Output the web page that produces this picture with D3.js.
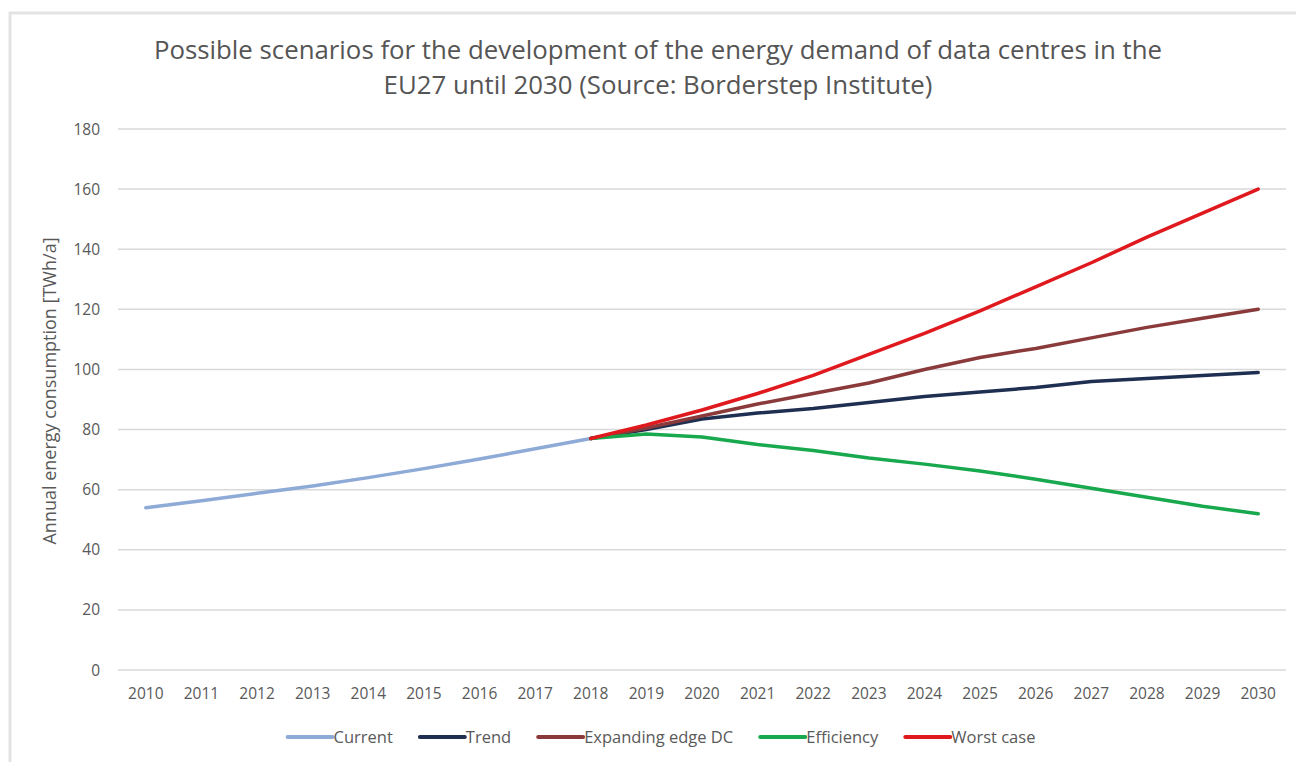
<!DOCTYPE html>
<html>
<head>
<meta charset="utf-8">
<script src="https://cdn.jsdelivr.net/npm/d3@7"></script>
<style>
  body { margin: 0; background: #fff; }
  svg { display: block; font-family: "Open Sans", sans-serif; }
</style>
</head>
<body>
<svg width="1296" height="762"></svg>
<script>
// data
var years = [2010, 2011, 2012, 2013, 2014, 2015, 2016, 2017, 2018, 2019,
             2020, 2021, 2022, 2023, 2024, 2025, 2026, 2027, 2028, 2029, 2030];
var current    = [54, 56.3, 58.8, 61.2, 64, 67, 70.2, 73.6, 77];
var trend      = [77, 80, 83.5, 85.5, 87, 89, 91, 92.5, 94, 96, 97, 98, 99];
var expanding  = [77, 80.5, 84.5, 88.5, 92, 95.5, 100, 104, 107, 110.5, 114, 117, 120];
var efficiency = [77, 78.5, 77.5, 75, 73, 70.5, 68.5, 66.2, 63.5, 60.5, 57.5, 54.5, 52];
var worst      = [77, 81.5, 86.5, 92, 98, 105, 112, 119.5, 127.5, 135.5, 144, 152, 160];
var yTicks = [0, 20, 40, 60, 80, 100, 120, 140, 160, 180];

var seriesNames = ["Current", "Trend", "Expanding edge DC", "Efficiency", "Worst case"];
var seriesColors = ["#8eaad6", "#1f2f52", "#8a3a3a", "#18a84e", "#e0191e"];

var svg = d3.select("svg");

// light frame like the pasted chart border
svg.append("rect")
    .attr("x", 10).attr("y", 13)
    .attr("width", 1300).attr("height", 800)
    .attr("fill", "none")
    .attr("stroke", "#e3e3e3")
    .attr("stroke-width", 3);

var x = d3.scalePoint()
    .domain(years)
    .range([118, 1286])
    .padding(0.5);

var y = d3.scaleLinear()
    .domain([0, 180])
    .range([670, 129]);

// gridlines + y labels
var grid = svg.append("g");
grid.selectAll("line")
    .data(yTicks)
    .enter().append("line")
    .attr("x1", 118).attr("x2", 1286)
    .attr("y1", function (d) { return y(d); })
    .attr("y2", function (d) { return y(d); })
    .attr("stroke", "#d9d9d9")
    .attr("stroke-width", 1.5);

grid.selectAll("text")
    .data(yTicks)
    .enter().append("text")
    .attr("x", 100)
    .attr("y", function (d) { return y(d) + 5.5; })
    .attr("text-anchor", "end")
    .attr("fill", "#595959")
    .attr("font-size", 15.5)
    .text(function (d) { return d; });

// x labels
svg.append("g").selectAll("text")
    .data(years)
    .enter().append("text")
    .attr("x", function (d) { return x(d); })
    .attr("y", 699)
    .attr("text-anchor", "middle")
    .attr("fill", "#595959")
    .attr("font-size", 15.5)
    .text(function (d) { return d; });

// axis title
svg.append("text")
    .attr("transform", "translate(56,391) rotate(-90)")
    .attr("text-anchor", "middle")
    .attr("fill", "#595959")
    .attr("font-size", 18)
    .text("Annual energy consumption [TWh/a]");

// chart title
var title = svg.append("text")
    .attr("text-anchor", "middle")
    .attr("fill", "#555555")
    .attr("font-size", 25.8);
title.append("tspan").attr("x", 658).attr("y", 59)
    .text("Possible scenarios for the development of the energy demand of data centres in the");
title.append("tspan").attr("x", 658).attr("y", 94)
    .text("EU27 until 2030 (Source: Borderstep Institute)");

// lines
function seriesPoints(vals, startIdx) {
    return vals.map(function (v, i) { return { year: years[startIdx + i], value: v }; });
}
var lineData = [
    seriesPoints(current, 0),
    seriesPoints(trend, 8),
    seriesPoints(expanding, 8),
    seriesPoints(efficiency, 8),
    seriesPoints(worst, 8)
];

var line = d3.line()
    .x(function (d) { return x(d.year); })
    .y(function (d) { return y(d.value); });

svg.append("g").selectAll("path")
    .data(lineData)
    .enter().append("path")
    .attr("d", line)
    .attr("fill", "none")
    .attr("stroke", function (d, i) { return seriesColors[i]; })
    .attr("stroke-width", 3.5)
    .attr("stroke-linejoin", "round")
    .attr("stroke-linecap", "round");

// legend, laid out from measured text widths and centred
var legend = svg.append("g");
var items = legend.selectAll("g")
    .data(seriesNames)
    .enter().append("g");
items.append("line")
    .attr("x1", 0).attr("x2", 45)
    .attr("y1", 0).attr("y2", 0)
    .attr("stroke", function (d, i) { return seriesColors[i]; })
    .attr("stroke-width", 4)
    .attr("stroke-linecap", "round");
items.append("text")
    .attr("x", 46)
    .attr("y", 6)
    .attr("fill", "#595959")
    .attr("font-size", 16.5)
    .text(function (d) { return d; });

var pos = 0;
items.each(function () {
    var w = 46 + d3.select(this).select("text").node().getComputedTextLength();
    d3.select(this).attr("transform", "translate(" + pos + ",0)");
    pos += w + 27;
});
var totalW = pos - 27;
legend.attr("transform", "translate(" + (661.5 - totalW / 2) + ",737)");
</script>
</body>
</html>
